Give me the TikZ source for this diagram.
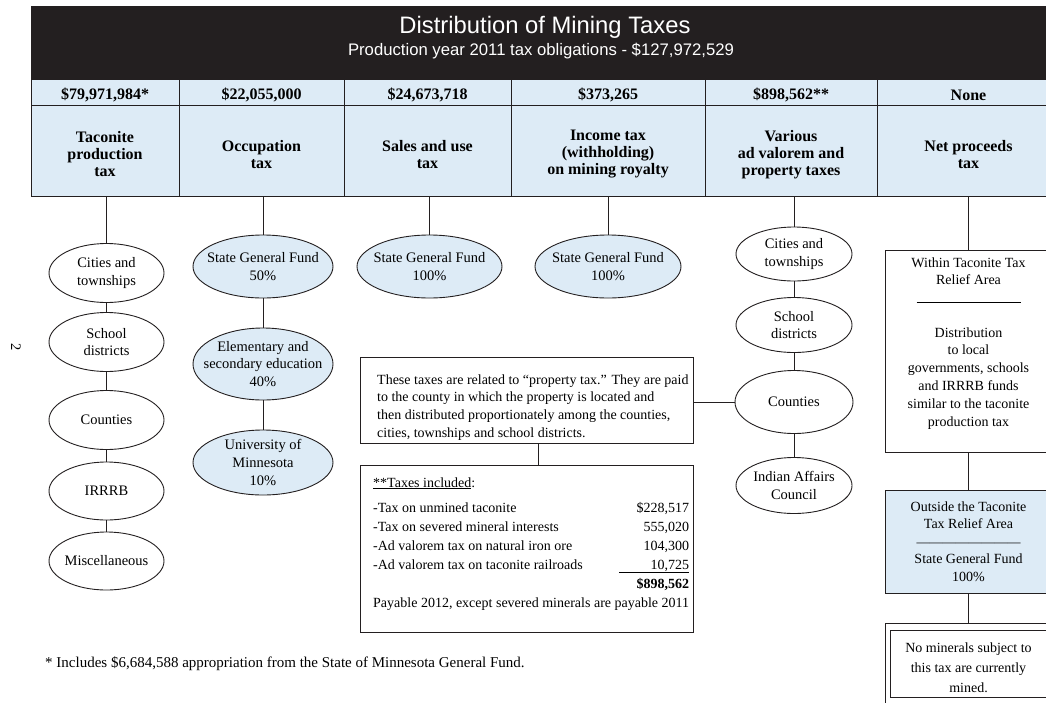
\documentclass[tikz,border=0pt]{standalone}
\usepackage{fontspec}
\setmainfont{Liberation Serif}
\newfontfamily\titlesans{Liberation Sans}
\usetikzlibrary{shapes.geometric}
\definecolor{hdrblack}{RGB}{35,31,32}
\definecolor{lblue}{RGB}{221,235,246}
\definecolor{linec}{RGB}{35,31,32}
\newcommand{\mybody}{\fontsize{14.5pt}{17.6pt}\selectfont}
\newcommand{\myhdr}{\fontsize{16pt}{17pt}\selectfont\bfseries}
\begin{document}
\begin{tikzpicture}[x=1pt,y=-1pt,
  cellbox/.style={rectangle, draw=linec, fill=lblue, line width=0.9pt, inner sep=0pt},
  hdrtxt/.style={font=\myhdr, align=center, inner sep=0pt, text=black},
  ell/.style={ellipse, draw=linec, line width=0.9pt, inner sep=0pt, fill=white},
  ellb/.style={ell, fill=lblue},
  etxt/.style={font=\mybody, align=center, inner sep=0pt},
  boxs/.style={rectangle, draw=linec, line width=0.9pt, inner sep=0pt, fill=white},
  conn/.style={draw=linec, line width=0.9pt}]
\useasboundingbox (0,0) rectangle (1046,702);

% header
\node[rectangle, fill=hdrblack, draw=none, minimum width=1029pt, minimum height=73pt, inner sep=0pt] (hdr) at (545.5,42.5) {};
\node[font=\titlesans\fontsize{23.8pt}{23.8pt}\selectfont, text=white, anchor=base, inner sep=0pt] (title) at (545,33) {Distribution of Mining Taxes};
\node[font=\titlesans\fontsize{16.7pt}{16.7pt}\selectfont, text=white, anchor=base, inner sep=0pt] (subtitle) at (541,55) {Production year 2011 tax obligations - \$127,972,529};

% table cells
\foreach \cx/\w/\i in {105/148/1,261.5/165/2,427.5/167/3,608/194/4,791/172/5,968.5/183/6}{
  \node[cellbox, minimum width=\w pt, minimum height=26pt] (amtcell\i) at (\cx,92) {};
  \node[cellbox, minimum width=\w pt, minimum height=91pt] (nmcell\i) at (\cx,150.5) {};
}
\node[hdrtxt] (amt1) at ([yshift=-3pt]amtcell1.center) {\$79,971,984*};
\node[hdrtxt] (amt2) at ([yshift=-3pt]amtcell2.center) {\$22,055,000};
\node[hdrtxt] (amt3) at ([yshift=-3pt]amtcell3.center) {\$24,673,718};
\node[hdrtxt] (amt4) at ([yshift=-3pt]amtcell4.center) {\$373,265};
\node[hdrtxt] (amt5) at ([yshift=-3pt]amtcell5.center) {\$898,562**};
\node[hdrtxt] (amt6) at ([yshift=-3pt]amtcell6.center) {None};
\node[hdrtxt] (nm1) at ([yshift=-4pt]nmcell1.center) {Taconite\\production\\tax};
\node[hdrtxt] (nm2) at ([yshift=-4pt]nmcell2.center) {Occupation\\tax};
\node[hdrtxt] (nm3) at ([yshift=-4pt]nmcell3.center) {Sales and use\\tax};
\node[hdrtxt] (nm4) at ([yshift=-4pt]nmcell4.center) {Income tax\\(withholding)\\on mining royalty};
\node[hdrtxt] (nm5) at ([yshift=-4pt]nmcell5.center) {Various\\ad valorem and\\property taxes};
\node[hdrtxt] (nm6) at ([yshift=-4pt]nmcell6.center) {Net proceeds\\tax};

% column 1
\node[ell, minimum width=115pt, minimum height=59pt] (c1a) at (106.5,273) {};
\node[etxt] (c1at) at (c1a) {Cities and\\townships};
\node[ell, minimum width=115pt, minimum height=59pt] (c1b) at (106.5,342) {};
\node[etxt] (c1bt) at (c1b) {School\\districts};
\node[ell, minimum width=115pt, minimum height=59pt] (c1c) at (106.5,420) {};
\node[etxt] (c1ct) at (c1c) {Counties};
\node[ell, minimum width=115pt, minimum height=58pt] (c1d) at (106.5,491) {};
\node[etxt] (c1dt) at (c1d) {IRRRB};
\node[ell, minimum width=115pt, minimum height=58pt] (c1e) at (106.5,561) {};
\node[etxt] (c1et) at (c1e) {Miscellaneous};

% column 2
\node[ellb, minimum width=140pt, minimum height=63pt] (c2a) at (263,266.5) {};
\node[etxt] (c2at) at (c2a) {State General Fund\\50\%};
\node[ellb, minimum width=140pt, minimum height=72pt] (c2b) at (263,364) {};
\node[etxt] (c2bt) at (c2b) {Elementary and\\secondary education\\40\%};
\node[ellb, minimum width=140pt, minimum height=65pt] (c2c) at (263,462.5) {};
\node[etxt] (c2ct) at (c2c) {University of\\Minnesota\\10\%};

% columns 3 and 4
\node[ellb, minimum width=145pt, minimum height=63pt] (c3a) at (429.5,266.5) {};
\node[etxt] (c3at) at (c3a) {State General Fund\\100\%};
\node[ellb, minimum width=146pt, minimum height=63pt] (c4a) at (608,266.5) {};
\node[etxt] (c4at) at (c4a) {State General Fund\\100\%};

% column 5
\node[ell, minimum width=116pt, minimum height=54pt] (c5a) at (794,254) {};
\node[etxt] (c5at) at (c5a) {Cities and\\townships};
\node[ell, minimum width=116pt, minimum height=55pt] (c5b) at (794,325) {};
\node[etxt] (c5bt) at (c5b) {School\\districts};
\node[ell, minimum width=118pt, minimum height=63pt] (c5c) at (794,402) {};
\node[etxt] (c5ct) at (c5c) {Counties};
\node[ell, minimum width=116pt, minimum height=56pt] (c5d) at (794,485.5) {};
\node[etxt] (c5dt) at (c5d) {Indian Affairs\\Council};

% property tax boxes
\node[boxs, minimum width=333pt, minimum height=86pt] (prop) at (526.5,400) {};
\node[anchor=base west, inner sep=0pt, font=\fontsize{14pt}{17.7pt}\selectfont] (proptxt) at (377,384) {%
\begin{tabular}[t]{@{}l@{}}
These taxes are related to ``property tax.'' They are paid\\
to the county in which the property is located and\\
then distributed proportionately among the counties,\\
cities, townships and school districts.
\end{tabular}};
\node[boxs, minimum width=333pt, minimum height=167pt] (taxes) at (526.5,548.5) {};
\node[anchor=base west, inner sep=0pt, font=\fontsize{14pt}{19pt}\selectfont] (taxtxt) at (373,487) {%
\begin{tabular*}{310pt}[t]{@{}l@{\extracolsep{\fill}}r@{}}
\underline{**Taxes included}: & \\[6pt]
-Tax on unmined taconite & \$228,517\\
-Tax on severed mineral interests & 555,020\\
-Ad valorem tax on natural iron ore & 104,300\\
-Ad valorem tax on taconite railroads & \underline{\makebox[70pt][r]{10,725}}\\
 & \textbf{\$898,562}\\
\multicolumn{2}{@{}l@{}}{Payable 2012, except severed minerals are payable 2011}
\end{tabular*}};

% column 6
\node[boxs, minimum width=167pt, minimum height=202pt] (box1) at (968.5,351) {};
\node[anchor=base, inner sep=0pt, font=\fontsize{14pt}{17.8pt}\selectfont] (box1txt) at (968.5,267) {%
\begin{tabular}[t]{@{}c@{}}
Within Taconite Tax\\
Relief Area\\
\rule{104pt}{0.6pt}\\[16.6pt]
Distribution\\
to local\\
governments, schools\\
and IRRRB funds\\
similar to the taconite\\
production tax
\end{tabular}};
\node[boxs, fill=lblue, minimum width=167pt, minimum height=103pt, align=center, font=\fontsize{14pt}{17.5pt}\selectfont] (blue) at (968.5,541.5) {Outside the Taconite\\Tax Relief Area\\{\fontsize{13pt}{17.5pt}\selectfont ————————}\\State General Fund\\100\%};
\node[boxs, line width=0.8pt, minimum width=175pt, minimum height=81pt] (final) at (972.5,663.5) {};
\node[boxs, line width=0.8pt, minimum width=169.5pt, minimum height=67pt] (finalin) at (975.25,663.5) {};
\node[etxt, font=\fontsize{14pt}{20pt}\selectfont] (finaltxt) at (968.5,668) {No minerals subject to\\this tax are currently\\mined.};

% connectors
\draw[conn] (nmcell1.south -| c1a.north) -- (c1a.north);
\draw[conn] (c1a.south) -- (c1b.north);
\draw[conn] (c1b.south) -- (c1c.north);
\draw[conn] (c1c.south) -- (c1d.north);
\draw[conn] (c1d.south) -- (c1e.north);
\draw[conn] (nmcell2.south -| c2a.north) -- (c2a.north);
\draw[conn] (c2a.south) -- (c2b.north);
\draw[conn] (c2b.south) -- (c2c.north);
\draw[conn] (nmcell3.south -| c3a.north) -- (c3a.north);
\draw[conn] (nmcell4.south -| c4a.north) -- (c4a.north);
\draw[conn] (nmcell5.south -| c5a.north) -- (c5a.north);
\draw[conn] (c5a.south) -- (c5b.north);
\draw[conn] (c5b.south) -- (c5c.north);
\draw[conn] (c5c.south) -- (c5d.north);
\draw[conn] (prop.east |- c5c.west) -- (c5c.west);
\draw[conn] ([xshift=11.5pt]prop.south) -- ([xshift=11.5pt]taxes.north);
\draw[conn] (nmcell6.south -| box1.north) -- (box1.north);
\draw[conn] (box1.south) -- (blue.north);
\draw[conn] (blue.south) -- (blue.south |- final.north);

% footnote and page number
\node[anchor=base west, inner sep=0pt, font=\fontsize{15pt}{18pt}\selectfont] (foot) at (45,667) {* Includes \$6,684,588 appropriation from the State of Minnesota General Fund.};
\node[font=\mybody, rotate=-90, inner sep=0pt] (pagenum) at (16,347) {2};
\end{tikzpicture}
\end{document}
